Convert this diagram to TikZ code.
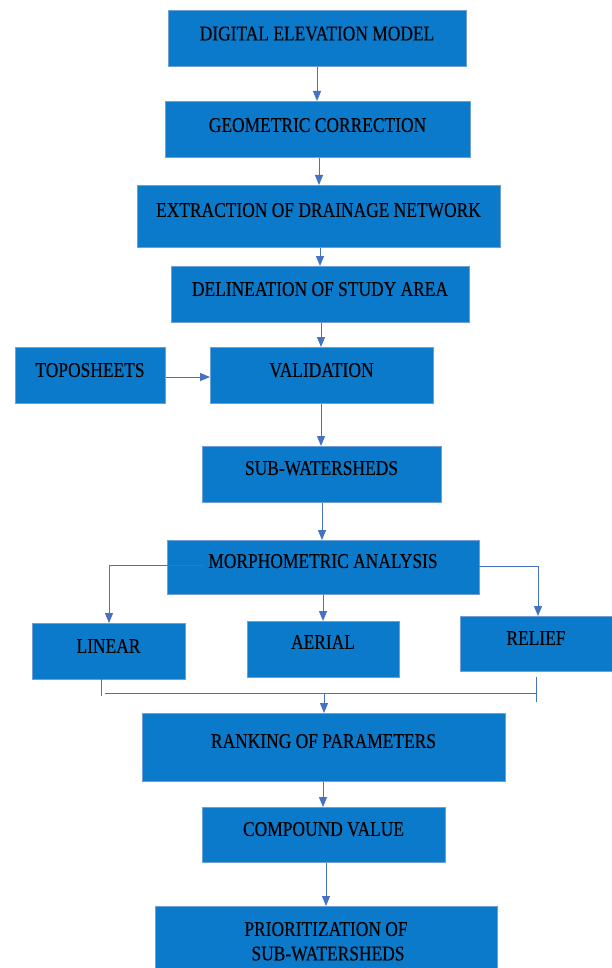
\documentclass[tikz,border=0pt]{standalone}
\usepackage{fontspec}
\setmainfont{Liberation Serif}[FakeStretch=0.83,FakeBold=0.25]
\usetikzlibrary{arrows.meta}
\definecolor{boxfill}{RGB}{11,122,202}
\definecolor{boxedge}{RGB}{110,160,215}
\definecolor{linkc}{RGB}{68,114,196}
\begin{document}
\begin{tikzpicture}[x=1pt,y=-1pt,
  box/.style={draw=boxedge, line width=0.8pt, fill=boxfill, inner sep=0pt, anchor=north west},
  txt/.style={inner sep=0pt, text height=13.9pt, text depth=0pt, font=\fontsize{21pt}{25pt}\selectfont, text=black},
  link/.style={draw=linkc, line width=1pt},
  arr/.style={link, -{Triangle[length=10pt,width=8pt]}}]
\useasboundingbox (0,0) rectangle (612,968);
\fill[white] (0,0) rectangle (612,968);
% boxes
\node[box, minimum width=298pt, minimum height=56pt] (dem) at (168,10) {};
\node[box, minimum width=305pt, minimum height=56pt] (gc) at (165,101) {};
\node[box, minimum width=363pt, minimum height=62pt] (ext) at (137,185) {};
\node[box, minimum width=298pt, minimum height=56pt] (del) at (171,266) {};
\node[box, minimum width=150pt, minimum height=56pt] (topo) at (15,347) {};
\node[box, minimum width=223pt, minimum height=56pt] (val) at (210,347) {};
\node[box, minimum width=239pt, minimum height=56pt] (sub) at (202,446) {};
\node[box, minimum width=312pt, minimum height=54pt] (morph) at (167,540) {};
\node[box, minimum width=153pt, minimum height=56pt] (lin) at (32,623) {};
\node[box, minimum width=152pt, minimum height=56pt] (aer) at (247,621) {};
\node[box, minimum width=152pt, minimum height=55pt] (rel) at (460,616) {};
\node[box, minimum width=363pt, minimum height=68pt] (rank) at (142,713) {};
\node[box, minimum width=243pt, minimum height=55pt] (comp) at (202,807) {};
\node[box, minimum width=342pt, minimum height=70pt] (prio) at (155,906) {};
% texts
\node[txt] (demT) at (317,33.5) {DIGITAL ELEVATION MODEL};
\node[txt] (gcT) at (317.5,125) {GEOMETRIC CORRECTION};
\node[txt] (extT) at (318.5,210) {EXTRACTION OF DRAINAGE NETWORK};
\node[txt] (delT) at (320,289) {DELINEATION OF STUDY AREA};
\node[txt] (topoT) at (90,370) {TOPOSHEETS};
\node[txt] (valT) at (321.5,370) {VALIDATION};
\node[txt] (subT) at (321.5,468) {SUB-WATERSHEDS};
\node[txt] (morphT) at (323,561) {MORPHOMETRIC ANALYSIS};
\node[txt] (linT) at (108.5,646) {LINEAR};
\node[txt] (aerT) at (323,642) {AERIAL};
\node[txt] (relT) at (536,638) {RELIEF};
\node[txt] (rankT) at (323.5,741) {RANKING OF PARAMETERS};
\node[txt] (compT) at (323.5,829) {COMPOUND VALUE};
\node[txt] (prioT1) at (326,929) {PRIORITIZATION OF};
\node[txt] (prioT2) at (328,953.5) {SUB-WATERSHEDS};
% coordinates for bracket
\coordinate (mL) at (203,565);
\coordinate (mLc) at (109,565);
\coordinate (mR) at (479,566);
\coordinate (mRc) at (538,566);
\coordinate (lA) at (101,679);
\coordinate (lB) at (101,696);
\coordinate (hL) at (105,693);
\coordinate (hR) at (536,693);
\coordinate (rA) at (536,677);
\coordinate (rB) at (536,702);
\coordinate (hM) at (324,693);
% connectors
\draw[arr] (dem.south -| 317,0) -- (gc.north -| 317,0);
\draw[arr] (gc.south -| 319,0) -- (ext.north -| 319,0);
\draw[arr] (ext.south -| 320,0) -- (del.north -| 320,0);
\draw[arr] (del.south -| 321,0) -- (val.north -| 321,0);
\draw[arr] (topo.east |- 0,377) -- (val.west |- 0,377);
\draw[arr] (val.south -| 321,0) -- (sub.north -| 321,0);
\draw[arr] (sub.south -| 322,0) -- (morph.north -| 322,0);
\draw[link] (mL) -- (mLc);
\draw[arr] (mLc) -- (lin.north -| mLc);
\draw[arr] (morph.south -| 323,0) -- (aer.north -| 323,0);
\draw[link] (mR) -- (mRc);
\draw[arr] (mRc) -- (rel.north -| mRc);
\draw[link] (lA) -- (lB);
\draw[link] (hL) -- (hR);
\draw[link] (rA) -- (rB);
\draw[arr] (hM) -- (rank.north -| hM);
\draw[arr] (rank.south -| 323,0) -- (comp.north -| 323,0);
\draw[arr] (comp.south -| 326,0) -- (prio.north -| 326,0);
\end{tikzpicture}
\end{document}
